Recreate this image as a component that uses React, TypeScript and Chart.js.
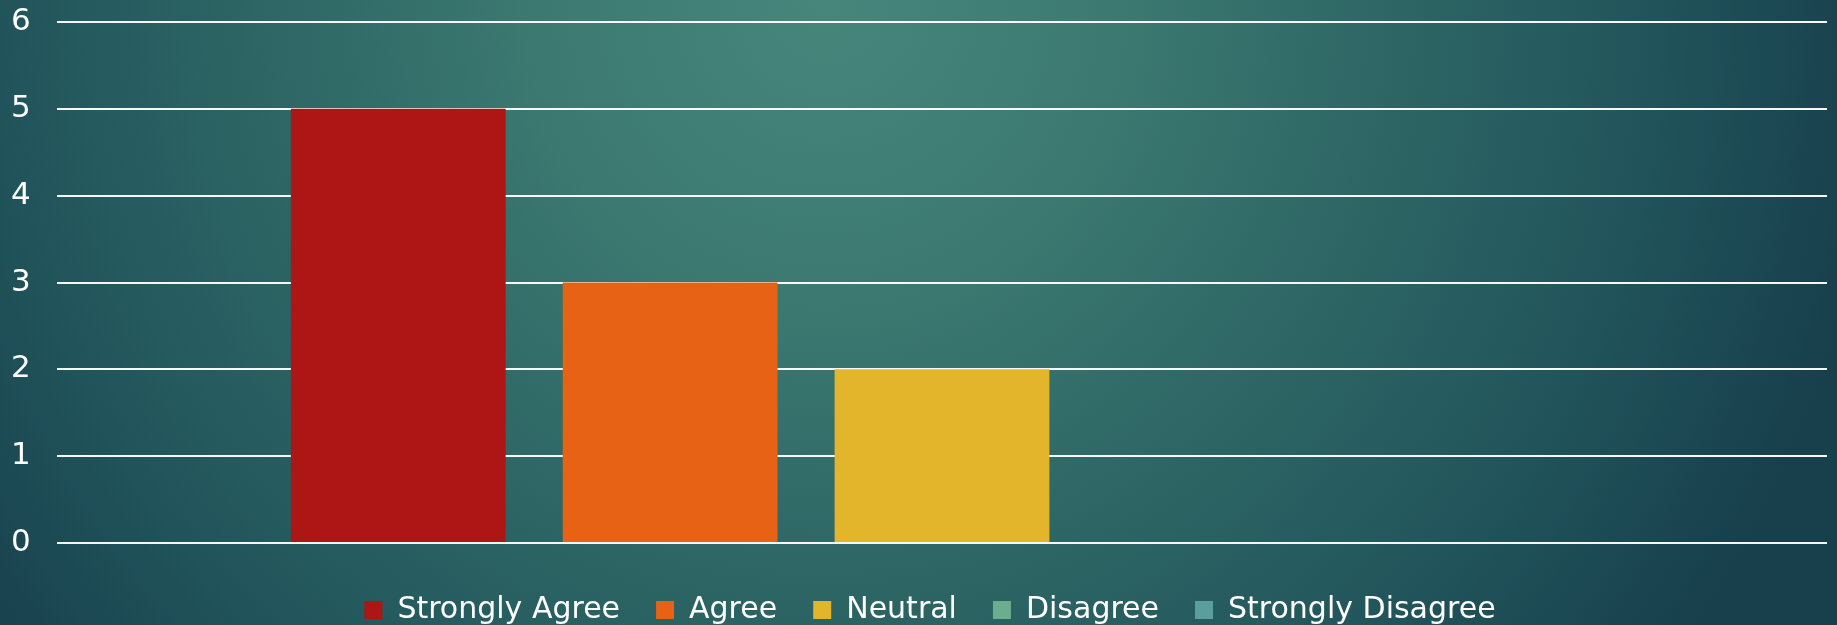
import React, { useEffect, useRef } from "react";
import { Chart, registerables } from "chart.js";

Chart.register(...registerables);

// ---- data ----
const categories = ["Responses"];
const seriesNames = ["Strongly Agree", "Agree", "Neutral", "Disagree", "Strongly Disagree"];
const stronglyAgree = [5];
const agree = [3];
const neutral = [2];
const disagree = [0];
const stronglyDisagree = [0];
const seriesColors = ["#ae1515", "#e76214", "#e3b52b", "#6aae8e", "#5b9e9f"];
const yMin = 0;
const yMax = 6;
const yStep = 1;

const FONT = "'DejaVu Sans', 'Liberation Sans', sans-serif";

export default function App() {
  const ref = useRef<HTMLCanvasElement | null>(null);

  useEffect(() => {
    if (!ref.current) return;
    const values = [stronglyAgree, agree, neutral, disagree, stronglyDisagree];
    const chart = new Chart(ref.current, {
      type: "bar",
      data: {
        labels: categories,
        datasets: seriesNames.map((name, i) => ({
          label: name,
          data: values[i],
          backgroundColor: seriesColors[i],
          borderWidth: 0,
          categoryPercentage: 0.768,
          barPercentage: 0.79,
        })),
      },
      options: {
        responsive: false,
        animation: false,
        layout: { padding: { left: 33, right: 10, top: 22, bottom: 0 } },
        plugins: {
          tooltip: { enabled: false },
          legend: {
            position: "bottom",
            labels: {
              boxWidth: 18,
              boxHeight: 18,
              padding: 36,
              color: "#ffffff",
              font: { family: FONT, size: 30 },
            },
          },
        },
        scales: {
          x: {
            display: true,
            grid: { display: false, drawTicks: true, tickLength: 16 },
            ticks: { display: false },
            border: { display: false },
          },
          y: {
            min: yMin,
            max: yMax,
            ticks: {
              stepSize: yStep,
              color: "#ffffff",
              mirror: true,
              padding: -46,
              font: { family: FONT, size: 31 },
            },
            grid: { color: "#f6f8f8", lineWidth: 2, drawTicks: false },
            border: { display: false },
            afterFit: (scale: any) => {
              scale.width = 24;
            },
          },
        },
      },
    });
    return () => chart.destroy();
  }, []);

  return (
    <div
      style={{
        position: "fixed",
        left: 0,
        top: 0,
        width: 1837,
        height: 625,
        overflow: "hidden",
        background:
          "radial-gradient(ellipse 58% 175% at 45% 0%, #46867b 0%, #3d7b72 25%, #2f6866 50%, #22565c 75%, #173f4c 100%)",
      }}
    >
      <canvas ref={ref} width={1837} height={635} style={{ display: "block" }} />
    </div>
  );
}
